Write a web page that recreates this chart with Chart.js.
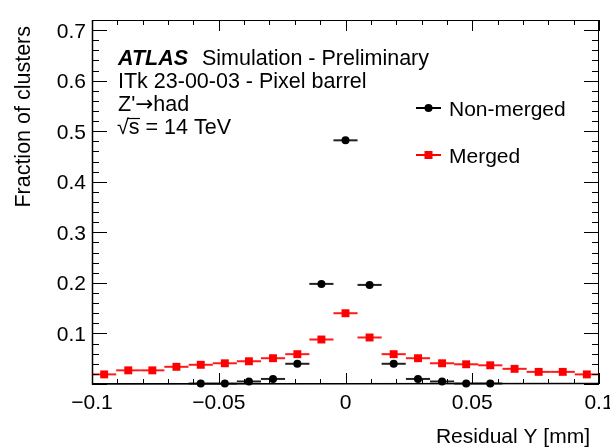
<!DOCTYPE html>
<html>
<head>
<meta charset="utf-8">
<script src="https://cdn.jsdelivr.net/npm/chart.js@4.4.1/dist/chart.umd.min.js"></script>
<style>
  html, body { margin: 0; padding: 0; background: #fff; }
</style>
</head>
<body>
<canvas id="chart" width="610" height="448"></canvas>
<script>
// Residual Y, 21 bins from -0.1 to 0.1 mm
const binWidth = 0.2 / 21;
const mergedX = [-0.0952, -0.0857, -0.0762, -0.0667, -0.0571, -0.0476, -0.0381, -0.0286, -0.0190, -0.0095,
                 0, 0.0095, 0.0190, 0.0286, 0.0381, 0.0476, 0.0571, 0.0667, 0.0762, 0.0857, 0.0952];
const mergedY = [0.019, 0.027, 0.027, 0.034, 0.038, 0.041, 0.045, 0.051, 0.059, 0.088,
                 0.140, 0.092, 0.059, 0.051, 0.041, 0.039, 0.037, 0.030, 0.024, 0.024, 0.019];
const nonMergedX = [-0.0571, -0.0476, -0.0381, -0.0286, -0.0190, -0.0095, 0, 0.0095, 0.0190, 0.0286, 0.0381, 0.0476, 0.0571];
const nonMergedY = [0.001, 0.001, 0.005, 0.010, 0.040, 0.198, 0.482, 0.196, 0.040, 0.010, 0.005, 0.001, 0.001];

const xTicks = [-0.1, -0.05, 0, 0.05, 0.1];
const xTickLabels = ['\u22120.1', '\u22120.05', '0', '0.05', '0.1'];
const yTicks = [0.1, 0.2, 0.3, 0.4, 0.5, 0.6, 0.7];
const yTickLabels = ['0.1', '0.2', '0.3', '0.4', '0.5', '0.6', '0.7'];

const FONT = "'Liberation Sans', Arial, Helvetica, sans-serif";

function toPoints(xs, ys) {
    return xs.map((x, i) => ({ x: x, y: ys[i] }));
}

// horizontal bin-width bars under each marker
const binBars = {
    id: 'binBars',
    beforeDatasetsDraw(chart) {
        const ctx = chart.ctx;
        const xs = chart.scales.x;
        chart.data.datasets.forEach((ds, di) => {
            const meta = chart.getDatasetMeta(di);
            ctx.save();
            ctx.strokeStyle = ds.barColor;
            ctx.lineWidth = 2;
            ds.data.forEach((p, i) => {
                const y = meta.data[i].y;
                ctx.beginPath();
                ctx.moveTo(xs.getPixelForValue(p.x - binWidth / 2), y);
                ctx.lineTo(xs.getPixelForValue(p.x + binWidth / 2), y);
                ctx.stroke();
            });
            ctx.restore();
        });
    }
};

// ROOT style frame, ticks, labels and text
const rootFrame = {
    id: 'rootFrame',
    afterDraw(chart) {
        const ctx = chart.ctx;
        const a = chart.chartArea;
        const xs = chart.scales.x;
        const ys = chart.scales.y;
        ctx.save();

        // frame
        ctx.strokeStyle = '#000';
        ctx.lineWidth = 1;
        ctx.strokeRect(a.left + 0.5, a.top + 0.5, a.right - a.left - 1, a.bottom - a.top - 1);
        ctx.lineWidth = 1.5;
        ctx.beginPath();
        ctx.moveTo(a.left + 0.5, a.top);
        ctx.lineTo(a.left + 0.5, a.bottom);
        ctx.lineTo(a.right, a.bottom - 0.5);
        ctx.stroke();

        // x ticks (bottom and top)
        ctx.lineWidth = 1;
        for (let k = -10; k <= 10; k++) {
            const v = k / 100;
            const px = Math.round(xs.getPixelForValue(v)) + 0.5;
            const len = (k % 5 === 0) ? 11 : 5;
            ctx.beginPath();
            ctx.moveTo(px, a.bottom);
            ctx.lineTo(px, a.bottom - len);
            ctx.moveTo(px, a.top);
            ctx.lineTo(px, a.top + len);
            ctx.stroke();
        }
        // y ticks (left and right)
        for (let k = 0; k <= 36; k++) {
            const v = k / 50;
            const py = Math.round(ys.getPixelForValue(v)) + 0.5;
            const len = (k % 5 === 0) ? 15 : 7;
            ctx.beginPath();
            ctx.moveTo(a.left, py);
            ctx.lineTo(a.left + len, py);
            ctx.moveTo(a.right, py);
            ctx.lineTo(a.right - len, py);
            ctx.stroke();
        }

        // tick labels
        ctx.fillStyle = '#000';
        ctx.font = '21px ' + FONT;
        ctx.textAlign = 'center';
        ctx.textBaseline = 'alphabetic';
        xTicks.forEach((v, i) => {
            ctx.fillText(xTickLabels[i], xs.getPixelForValue(v), 409);
        });
        ctx.textAlign = 'right';
        yTicks.forEach((v, i) => {
            ctx.fillText(yTickLabels[i], 86, ys.getPixelForValue(v) + 7.5);
        });

        // axis titles
        ctx.fillText('Residual Y [mm]', 590, 443);
        ctx.save();
        ctx.translate(30, 26);
        ctx.rotate(-Math.PI / 2);
        ctx.textAlign = 'right';
        ctx.font = '21.5px ' + FONT;
        ctx.fillText('Fraction of clusters', 0, 0);
        ctx.restore();

        // ATLAS label block
        ctx.textAlign = 'left';
        ctx.font = 'italic bold 21.5px ' + FONT;
        ctx.fillText('ATLAS', 118, 65);
        ctx.font = '21.5px ' + FONT;
        ctx.fillText('Simulation - Preliminary', 202, 65);
        ctx.fillText('ITk 23-00-03 - Pixel barrel', 118, 88);
        ctx.fillText('Z\'', 118, 111);
        const zw = ctx.measureText('Z\'').width;
        ctx.font = '21.5px "DejaVu Sans", ' + FONT;
        ctx.fillText('\u2192', 118 + zw, 111);
        const aw = ctx.measureText('\u2192').width;
        ctx.font = '21.5px ' + FONT;
        ctx.fillText('had', 118 + zw + aw, 111);
        ctx.fillText('\u221A', 117, 134);
        const rw = ctx.measureText('\u221A').width;
        ctx.fillText('s = 14 TeV', 117 + rw, 134);
        const sw = ctx.measureText('s').width;
        ctx.lineWidth = 1.2;
        ctx.beginPath();
        ctx.moveTo(117 + rw - 1, 118.5);
        ctx.lineTo(117 + rw + sw + 0.5, 118.5);
        ctx.stroke();

        // legend
        ctx.font = '21px ' + FONT;
        const legendItems = [
            { label: 'Non-merged', color: '#000', style: 'circle', y: 108 },
            { label: 'Merged', color: '#ff0000', style: 'rect', y: 155 }
        ];
        legendItems.forEach(item => {
            ctx.strokeStyle = item.color;
            ctx.fillStyle = item.color;
            ctx.lineWidth = 2;
            ctx.beginPath();
            ctx.moveTo(416, item.y);
            ctx.lineTo(441, item.y);
            ctx.stroke();
            if (item.style === 'circle') {
                ctx.beginPath();
                ctx.arc(428.5, item.y, 4, 0, Math.PI * 2);
                ctx.fill();
            } else {
                ctx.fillRect(424.5, item.y - 4, 8, 8);
            }
            ctx.fillStyle = '#000';
            ctx.fillText(item.label, 449, item.y + 7.5);
        });

        ctx.restore();
    }
};

const ctx = document.getElementById('chart').getContext('2d');
new Chart(ctx, {
    type: 'scatter',
    data: {
        datasets: [
            {
                label: 'Non-merged',
                data: toPoints(nonMergedX, nonMergedY),
                backgroundColor: '#000',
                borderColor: '#000',
                barColor: '#222',
                pointStyle: 'circle',
                pointRadius: 4,
                pointBorderWidth: 0,
                clip: false
            },
            {
                label: 'Merged',
                data: toPoints(mergedX, mergedY),
                backgroundColor: '#ff0000',
                borderColor: '#ff0000',
                barColor: '#ff1a1a',
                pointStyle: 'rect',
                pointRadius: 5.6,
                pointBorderWidth: 0,
                clip: false
            }
        ]
    },
    options: {
        responsive: false,
        animation: false,
        devicePixelRatio: 1,
        layout: { padding: { left: 92, right: 11, top: 20, bottom: 64 } },
        plugins: { legend: { display: false }, tooltip: { enabled: false } },
        scales: {
            x: { type: 'linear', min: -0.1, max: 0.1, display: false },
            y: { type: 'linear', min: 0, max: 0.72, display: false }
        }
    },
    plugins: [binBars, rootFrame]
});
</script>
</body>
</html>
